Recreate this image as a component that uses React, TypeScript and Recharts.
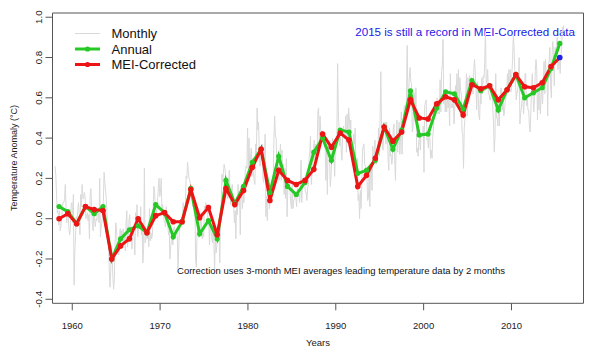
import React from "react";
import { LineChart, Line, XAxis, YAxis, ReferenceArea, Legend } from "recharts";

// data
const firstYear = 1958;
const yearTicks = [1960, 1970, 1980, 1990, 2000, 2010];
const anomalyTicks = [-0.4, -0.2, 0, 0.2, 0.4, 0.6, 0.8, 1.0];

const annualAnomaly = [
  0.06, 0.035, -0.025, 0.06, 0.025, 0.06, -0.2, -0.1, -0.055, -0.035,
  -0.07, 0.07, 0.03, -0.09, -0.015, 0.15, -0.075, -0.01, -0.1, 0.19,
  0.075, 0.16, 0.28, 0.345, 0.13, 0.31, 0.16, 0.12, 0.18, 0.33,
  0.4, 0.29, 0.44, 0.43, 0.225, 0.24, 0.29, 0.455, 0.345, 0.44,
  0.635, 0.415, 0.42, 0.55, 0.63, 0.62, 0.545, 0.685, 0.635, 0.66,
  0.54, 0.64, 0.715, 0.6, 0.625, 0.65, 0.745, 0.87,
];

const meiCorrected = [
  0.0, 0.025, -0.025, 0.06, 0.045, 0.04, -0.2, -0.135, -0.1, 0.0,
  -0.07, 0.015, 0.03, -0.015, -0.015, 0.145, 0.005, 0.055, -0.08, 0.15,
  0.07, 0.14, 0.255, 0.345, 0.09, 0.24, 0.19, 0.17, 0.19, 0.245,
  0.42, 0.355, 0.425, 0.39, 0.16, 0.215, 0.3, 0.455, 0.385, 0.43,
  0.59, 0.5, 0.495, 0.57, 0.605, 0.59, 0.515, 0.665, 0.645, 0.66,
  0.59, 0.64, 0.715, 0.655, 0.65, 0.675, 0.755, 0.8,
];

// one row per year, Jan..Dec
const monthlyAnomaly = [
  0.26, 0.22, 0.12, 0.03, 0.04, -0.03, 0.04, -0.06, -0.04, 0.0, 0.06, 0.08,
  0.08, 0.1, 0.17, 0.06, -0.02, 0.04, 0.01, -0.05, -0.08, -0.04, 0.07, 0.08,
  -0.02, 0.12, -0.33, -0.16, -0.09, 0.01, -0.02, 0.04, 0.08, 0.03, -0.08, 0.12,
  0.06, 0.17, 0.1, 0.1, 0.13, 0.11, 0.0, 0.01, 0.03, -0.01, 0.02, -0.1,
  0.12, 0.15, 0.04, -0.03, -0.06, 0.06, -0.01, -0.04, 0.0, -0.01, 0.05, 0.04,
  -0.02, 0.2, -0.09, -0.04, -0.02, 0.05, 0.09, 0.23, 0.18, 0.14, 0.1, 0.02,
  -0.07, -0.12, -0.25, -0.34, -0.27, -0.13, -0.18, -0.29, -0.35, -0.3, -0.12, -0.02,
  -0.05, -0.15, -0.12, -0.18, -0.1, -0.05, -0.13, -0.06, -0.11, -0.05, -0.13, -0.07,
  -0.16, -0.02, 0.04, -0.14, -0.1, -0.01, 0.02, -0.09, -0.04, -0.15, -0.05, -0.06,
  -0.09, -0.18, 0.03, -0.02, 0.07, -0.09, -0.04, 0.01, -0.05, 0.06, -0.08, -0.04,
  -0.22, -0.15, 0.25, -0.12, -0.1, -0.08, -0.1, -0.05, -0.14, 0.05, -0.11, -0.07,
  -0.1, -0.08, 0.05, 0.16, 0.13, 0.05, 0.05, 0.03, 0.09, 0.15, 0.2, 0.11,
  0.13, 0.2, 0.03, 0.07, 0.03, -0.01, -0.02, -0.04, 0.06, 0.02, -0.03, -0.08,
  -0.06, -0.2, -0.14, -0.1, -0.09, -0.13, -0.05, -0.04, -0.07, -0.06, -0.05, -0.09,
  -0.25, -0.14, -0.05, -0.03, -0.04, 0.01, -0.01, 0.08, -0.03, 0.01, 0.05, 0.21,
  0.2, 0.28, 0.24, 0.2, 0.19, 0.17, 0.1, 0.12, 0.06, 0.08, 0.07, 0.09,
  -0.2, -0.24, -0.07, -0.05, -0.08, -0.04, -0.06, 0.03, -0.03, -0.1, -0.07, -0.09,
  0.06, 0.05, 0.08, 0.05, 0.07, -0.02, -0.02, -0.13, -0.02, -0.06, -0.09, -0.12,
  -0.03, -0.13, -0.25, -0.08, -0.17, -0.13, -0.07, -0.11, -0.07, -0.22, -0.04, 0.07,
  0.22, 0.18, 0.23, 0.27, 0.25, 0.22, 0.16, 0.12, 0.1, 0.13, 0.24, 0.13,
  0.07, 0.14, 0.17, 0.11, 0.07, -0.02, 0.04, -0.1, 0.07, 0.02, 0.17, 0.07,
  0.11, -0.08, 0.16, 0.11, 0.05, 0.13, 0.08, 0.18, 0.25, 0.26, 0.25, 0.45,
  0.25, 0.4, 0.25, 0.3, 0.35, 0.21, 0.3, 0.23, 0.19, 0.17, 0.37, 0.32,
  0.55, 0.44, 0.48, 0.33, 0.26, 0.32, 0.3, 0.37, 0.2, 0.18, 0.3, 0.42,
  0.01, 0.11, -0.01, 0.1, 0.14, 0.05, 0.13, 0.09, 0.14, 0.14, 0.16, 0.4,
  0.51, 0.41, 0.4, 0.27, 0.32, 0.21, 0.19, 0.32, 0.37, 0.19, 0.34, 0.21,
  0.27, 0.12, 0.25, 0.1, 0.3, 0.01, 0.16, 0.2, 0.19, 0.13, 0.08, 0.05,
  0.17, 0.05, 0.09, 0.1, 0.12, 0.1, 0.06, 0.15, 0.11, 0.13, 0.08, 0.13,
  0.29, 0.08, 0.16, 0.2, 0.17, 0.18, 0.13, 0.13, 0.09, 0.15, 0.17, 0.3,
  0.33, 0.41, 0.17, 0.22, 0.25, 0.34, 0.39, 0.29, 0.37, 0.32, 0.32, 0.53,
  0.55, 0.38, 0.51, 0.43, 0.4, 0.41, 0.39, 0.41, 0.36, 0.35, 0.19, 0.36,
  0.12, 0.38, 0.31, 0.3, 0.16, 0.21, 0.32, 0.4, 0.3, 0.31, 0.21, 0.37,
  0.4, 0.41, 0.77, 0.53, 0.44, 0.36, 0.42, 0.33, 0.29, 0.43, 0.46, 0.4,
  0.4, 0.51, 0.33, 0.52, 0.37, 0.55, 0.5, 0.43, 0.49, 0.33, 0.35, 0.34,
  0.42, 0.37, 0.45, 0.23, 0.29, 0.3, 0.09, 0.12, 0.0, 0.14, 0.05, 0.16,
  0.34, 0.36, 0.37, 0.27, 0.26, 0.21, 0.22, 0.09, 0.1, 0.21, 0.06, 0.25,
  0.27, 0.14, 0.36, 0.3, 0.28, 0.39, 0.27, 0.27, 0.31, 0.33, 0.45, 0.31,
  0.5, 0.73, 0.46, 0.46, 0.34, 0.46, 0.47, 0.48, 0.37, 0.48, 0.42, 0.29,
  0.24, 0.45, 0.31, 0.32, 0.27, 0.3, 0.44, 0.47, 0.29, 0.19, 0.37, 0.49,
  0.33, 0.39, 0.48, 0.32, 0.4, 0.53, 0.32, 0.42, 0.49, 0.56, 0.56, 0.52,
  0.59, 0.86, 0.61, 0.62, 0.7, 0.75, 0.68, 0.67, 0.43, 0.45, 0.63, 0.62,
  0.48, 0.65, 0.33, 0.35, 0.31, 0.39, 0.4, 0.34, 0.42, 0.41, 0.41, 0.46,
  0.23, 0.56, 0.58, 0.59, 0.39, 0.4, 0.35, 0.43, 0.4, 0.3, 0.34, 0.3,
  0.41, 0.45, 0.58, 0.51, 0.58, 0.54, 0.6, 0.52, 0.53, 0.52, 0.69, 0.53,
  0.73, 0.76, 0.89, 0.57, 0.62, 0.53, 0.6, 0.53, 0.6, 0.55, 0.59, 0.46,
  0.72, 0.55, 0.57, 0.55, 0.6, 0.47, 0.54, 0.66, 0.61, 0.72, 0.59, 0.74,
  0.57, 0.7, 0.63, 0.62, 0.43, 0.42, 0.25, 0.45, 0.5, 0.62, 0.72, 0.51,
  0.7, 0.57, 0.71, 0.7, 0.64, 0.7, 0.66, 0.62, 0.74, 0.79, 0.73, 0.65,
  0.54, 0.68, 0.62, 0.51, 0.49, 0.63, 0.57, 0.7, 0.62, 0.71, 0.7, 0.78,
  0.93, 0.67, 0.68, 0.74, 0.62, 0.62, 0.59, 0.59, 0.62, 0.67, 0.55, 0.47,
  0.33, 0.41, 0.72, 0.5, 0.5, 0.46, 0.59, 0.46, 0.61, 0.65, 0.64, 0.54,
  0.59, 0.51, 0.53, 0.59, 0.6, 0.63, 0.72, 0.66, 0.74, 0.66, 0.74, 0.63,
  0.72, 0.79, 0.91, 0.85, 0.74, 0.68, 0.59, 0.62, 0.64, 0.68, 0.8, 0.47,
  0.52, 0.55, 0.59, 0.6, 0.52, 0.58, 0.72, 0.72, 0.56, 0.61, 0.54, 0.54,
  0.46, 0.43, 0.53, 0.66, 0.72, 0.6, 0.53, 0.6, 0.73, 0.79, 0.75, 0.49,
  0.67, 0.54, 0.66, 0.52, 0.61, 0.64, 0.57, 0.68, 0.78, 0.62, 0.79, 0.7,
  0.73, 0.51, 0.77, 0.78, 0.85, 0.66, 0.6, 0.82, 0.88, 0.8, 0.66, 0.85,
  0.81, 0.86, 0.9, 0.74, 0.8, 0.79, 0.72, 0.81, 0.84, 0.95, 0.93, 0.96,
];

const seriesNames = ["Monthly", "Annual", "MEI-Corrected"];
const recordNote = "2015 is still a record in MEI-Corrected data";
const methodNote =
  "Correction uses 3-month MEI averages leading temperature data by 2 months";

const GRAY = "#d9d9d9";
const GREEN = "#26c826";
const RED = "#ec1414";
const BLUE = "#2020e8";
const AXIS = "#555";
const FONT = "Arial, 'Liberation Sans', Helvetica, sans-serif";

const monthlyData = monthlyAnomaly.map((v, i) => ({
  x: firstYear + (i + 0.5) / 12,
  y: v,
}));
const annualData = annualAnomaly.map((v, i) => ({ x: firstYear + i + 0.5, y: v }));
const meiData = meiCorrected.map((v, i) => ({ x: firstYear + i + 0.5, y: v }));

const xDomain = [1957.75, 2018.2];
const yDomain = [-0.42, 1.021];

function XTick({ x, y, payload }: any) {
  return (
    <text x={x} y={y + 17} textAnchor="middle" fontSize={9.5} fontFamily={FONT} fill="#222">
      {payload.value}
    </text>
  );
}

function YTick({ x, y, payload }: any) {
  const tx = x - 1;
  return (
    <text
      x={tx}
      y={y}
      transform={`rotate(-90, ${tx}, ${y})`}
      textAnchor="middle"
      fontSize={9.8}
      fontFamily={FONT}
      fill="#222"
    >
      {Number(payload.value).toFixed(1)}
    </text>
  );
}

function LegendBox() {
  const colors = [GRAY, GREEN, RED];
  return (
    <svg width={160} height={56} style={{ display: "block" }}>
      {seriesNames.map((name, i) => {
        const cy = 11.5 + i * 15.5;
        return (
          <g key={name}>
            <line x1={15} x2={40} y1={cy} y2={cy} stroke={colors[i]} strokeWidth={i === 0 ? 1 : 3} />
            {i > 0 && <circle cx={27.5} cy={cy} r={2.6} fill={colors[i]} />}
            <text x={51.5} y={cy + 4.6} fontSize={13} fontFamily={FONT} fill="#111">
              {name}
            </text>
          </g>
        );
      })}
    </svg>
  );
}

function MeiDot(props: any) {
  const { cx, cy, index } = props;
  const last = index === meiData.length - 1;
  return <circle key={`mei-${index}`} cx={cx} cy={cy} r={2.8} fill={last ? BLUE : RED} />;
}

export default function App() {
  return (
    <div style={{ position: "absolute", left: 0, top: 0, width: 590, height: 355, background: "#fff" }}>
      <LineChart
        width={590}
        height={355}
        margin={{ top: 13, right: 6.5, bottom: 21.7, left: 12.5 }}
      >
        <XAxis
          type="number"
          dataKey="x"
          domain={xDomain}
          ticks={yearTicks}
          allowDataOverflow
          axisLine={false}
          tickLine={{ stroke: AXIS }}
          tickSize={7}
          height={30}
          tick={<XTick />}
        />
        <YAxis
          type="number"
          dataKey="y"
          domain={yDomain}
          ticks={anomalyTicks}
          allowDataOverflow
          axisLine={false}
          tickLine={{ stroke: AXIS }}
          tickSize={7}
          width={40}
          tick={<YTick />}
        />
        <ReferenceArea
          x1={xDomain[0]}
          x2={xDomain[1]}
          y1={yDomain[0]}
          y2={yDomain[1]}
          fill="none"
          fillOpacity={0}
          stroke={AXIS}
          strokeWidth={1}
        />
        <Line
          data={monthlyData}
          dataKey="y"
          stroke={GRAY}
          strokeWidth={1}
          dot={false}
          isAnimationActive={false}
        />
        <Line
          data={annualData}
          dataKey="y"
          stroke={GREEN}
          strokeWidth={3}
          dot={{ r: 2.6, fill: GREEN, stroke: GREEN, strokeWidth: 0 }}
          isAnimationActive={false}
        />
        <Line
          data={meiData}
          dataKey="y"
          stroke={RED}
          strokeWidth={3}
          dot={<MeiDot />}
          isAnimationActive={false}
        />
        <Legend
          layout="vertical"
          align="center"
          verticalAlign="middle"
          content={() => <LegendBox />}
          wrapperStyle={{ position: "absolute", left: 60, top: 22, width: 160, height: 56 }}
        />
        <text
          x={16.5}
          y={158}
          transform="rotate(-90, 16.5, 158)"
          textAnchor="middle"
          fontSize={9}
          fontFamily={FONT}
          fill="#222"
        >
          Temperature Anomaly (°C)
        </text>
        <text x={318} y={346} textAnchor="middle" fontSize={9.5} fontFamily={FONT} fill="#222">
          Years
        </text>
        <text x={575} y={35.8} textAnchor="end" fontSize={11.6} fontFamily={FONT} fill={BLUE}>
          {recordNote}
        </text>
        <text x={341} y={274} textAnchor="middle" fontSize={9.5} fontFamily={FONT} fill="#111">
          {methodNote}
        </text>
      </LineChart>
    </div>
  );
}
